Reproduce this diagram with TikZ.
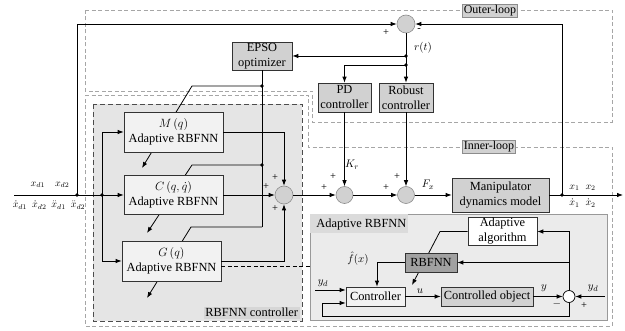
\documentclass[tikz,border=0pt]{standalone}
\usepackage{fontspec}
\setmainfont{Liberation Serif}
\usetikzlibrary{arrows.meta,calc}
\begin{document}
\begin{tikzpicture}[x=1pt,y=-1pt,
  line width=0.8pt,
  >={Latex[length=6pt,width=4.5pt]},
  blk/.style={draw=black!80, line width=0.7pt, align=center, inner sep=1pt,
    font=\fontsize{12.4}{15}\selectfont},
  sumn/.style={circle, draw=black!45, fill=black!18, minimum size=18pt, inner sep=0pt, line width=0.6pt},
  dot/.style={circle, fill=black, inner sep=0pt, minimum size=3.8pt},
  lbl/.style={font=\fontsize{11}{12}\selectfont, inner sep=0pt},
  lbls/.style={font=\fontsize{10}{11}\selectfont, inner sep=0pt},
  sgn/.style={font=\fontsize{10.5}{11}\selectfont, inner sep=0pt},
  loopbox/.style={draw=black!35, line width=0.6pt, dash pattern=on 4pt off 2.5pt},
  tag/.style={draw=black!45, fill=black!18, line width=0.5pt, inner sep=1.2pt,
    font=\fontsize{12}{13}\selectfont}
]
\useasboundingbox (0,0) rectangle (625,331);

% loop regions
\draw[loopbox] (85,10) -- (612,10) -- (612,122) -- (312,122) -- (312,91) -- (85,91) -- cycle;
\draw[loopbox] (85,95) -- (308,95) -- (308,147) -- (612,147) -- (612,326) -- (85,326) -- cycle;

% RBFNN controller region
\draw[draw=black!70, fill=black!10, line width=0.9pt, dash pattern=on 5pt off 3pt] (93,104) rectangle (302,321);
\node[fill=black!16, inner sep=1.5pt, anchor=south east, font=\fontsize{12.4}{13}\selectfont] (rcl) at (300,319) {RBFNN controller};

% Adaptive RBFNN region
\draw[draw=black!40, fill=black!8, line width=0.6pt] (310,214) rectangle (607,320);
\fill[black!14] (310.3,214.3) rectangle (408,233);
\node[anchor=west, inner sep=0pt, font=\fontsize{12.4}{13}\selectfont] (arl) at (316,224.5) {Adaptive RBFNN};

% EPSO and tuning lines (behind blocks)
\node[blk, fill=black!18, minimum width=60pt, minimum height=27pt] (EPSO) at (262,56) {EPSO\\optimizer};
\node[dot] (jm) at (262,86) {};
\node[dot] (jc) at (262,165) {};
\coordinate (eg) at (262,227);
\draw (EPSO.south) -- (eg);
\draw[->] (jm.center) -- (192,86) -- (142,168);
\draw[->] (jc.center) -- (192,165) -- (147,233);
\draw[->] (eg) -- (191,227) -- (147,298);

% RBFNN blocks
\node[blk, fill=black!5, minimum width=99pt, minimum height=40pt] (M) at (173.5,132) {$M\left(q\right)$\\Adaptive RBFNN};
\node[blk, fill=black!5, minimum width=99pt, minimum height=39pt] (C) at (173.5,195) {$C\left(q,\dot q\right)$\\Adaptive RBFNN};
\node[blk, fill=black!5, minimum width=99pt, minimum height=40pt] (G) at (171.5,261) {$G\left(q\right)$\\Adaptive RBFNN};

% summing junctions
\node[sumn] (S0) at (406,24) {};
\node[sumn] (S1) at (284,195) {};
\node[sumn, minimum size=17pt] (S2) at (344.5,195) {};
\node[sumn, minimum size=17pt] (S3) at (406,195) {};

% controllers and plant
\node[blk, fill=black!18, minimum width=53pt, minimum height=29pt] (PD) at (344.5,97.5) {PD\\controller};
\node[blk, fill=black!18, minimum width=54pt, minimum height=29pt] (RC) at (406,97.5) {Robust\\controller};
\node[blk, fill=black!18, minimum width=97pt, minimum height=34pt] (MD) at (500.5,195) {Manipulator\\dynamics model};

% main signal path
\coordinate (in) at (14,195);
\coordinate (out) at (623,195);
\node[dot] (ja) at (77,195) {};
\node[dot] (jb) at (102,195) {};
\node[dot] (jo) at (562,195) {};
\node[dot] (jr1) at (406,56) {};
\node[dot] (jr2) at (406,65) {};

\draw[->] (in) -- (C.west);
\draw[->] (ja.center) |- (S0.west);
\draw[->] (jb.center) |- (M.west);
\draw[->] (jb.center) |- (G.west);
\draw[->] (M.east) -| (S1.north);
\draw[->] (G.east) -| (S1.south);
\draw[->] (C.east) -- (S1.west);
\draw[->] (S1.east) -- (S2.west);
\draw[->] (S2.east) -- (S3.west);
\draw[->] (S3.east) -- (MD.west);
\draw[->] (MD.east) -- (out);
\draw[->] (jo.center) |- (S0.east);
\draw (S0.south) -- (jr1.center);
\draw[->] (jr1.center) -- (EPSO.east);
\draw[->] (jr1.center) -- (RC.north);
\draw[->] (jr2.center) -| (PD.north);
\draw[->] (PD.south) -- (S2.north);
\draw[->] (RC.south) -- (S3.north);

% dashed link G -> Adaptive RBFNN
\draw[line width=0.8pt, dash pattern=on 4pt off 2.5pt] ([yshift=-5pt]G.east) -- (310,266);

% Adaptive RBFNN internals
\node[blk, fill=white, minimum width=69pt, minimum height=27pt] (AA) at (502.5,231.5) {Adaptive\\algorithm};
\draw[->] (AA.west) -- (440,231.5) -- (412,285);
\node[blk, fill=black!37, minimum width=52pt, minimum height=19pt] (RB) at (431,262.5) {RBFNN};
\node[blk, fill=black!5, minimum width=59pt, minimum height=19pt] (CT) at (375.5,296.5) {Controller};
\node[blk, fill=black!18, minimum width=92pt, minimum height=19pt] (CO) at (487,296.5) {Controlled object};
\node[circle, draw=black, fill=white, line width=0.7pt, minimum size=12pt, inner sep=0pt] (S4) at (569,296.5) {};

\coordinate (ydl) at (315,290);
\coordinate (ydr) at (605,296.5);
\coordinate (fb) at (377,262.5);
\draw[->] (ydl) -- (ydl -| CT.west);
\draw[->] (S4.south) -- (569,316) -- (322,316) |- ([yshift=-6.5pt]CT.west);
\draw[->] (CT.east) -- (CO.west);
\draw[->] (CO.east) -- (S4.west);
\draw[->] (ydr) -- (S4.east);
\draw[->] (S4.north) |- (AA.east);
\draw[->] (569,262.5) -- (RB.east);
\draw[->] (RB.west) -- (fb) -- (fb |- CT.north);

% labels
\node[lbl] at (423,48) {$r(t)$};
\node[lbl] at (352,165) {$K_r$};
\node[lbl] at (428,185) {$F_x$};
\node[lbls] at (50,185) {$x_{d1}\hspace{10pt}x_{d2}$};
\node[lbls] at (49,205) {$\dot x_{d1}\hspace{5pt}\dot x_{d2}\hspace{5pt}\ddot x_{d1}\hspace{5pt}\ddot x_{d2}$};
\node[lbls] at (582.5,188) {$x_1\hspace{6pt}x_2$};
\node[lbls] at (582.5,203) {$\dot x_1\hspace{6pt}\dot x_2$};
\node[lbl] at (358,259) {$\hat f(x)$};
\node[lbl] at (323,283) {$y_d$};
\node[lbl] at (420,291) {$u$};
\node[lbl] at (544,288) {$y$};
\node[lbl] at (593,288) {$y_d$};

\node[sgn] at (386,33) {+};
\node[sgn] at (419,30) {-};
\node[sgn] at (333,177) {+};
\node[sgn] at (324,188) {+};
\node[sgn] at (397,177) {+};
\node[sgn] at (386,188) {+};
\node[sgn] at (275,178) {+};
\node[sgn] at (266,187) {+};
\node[sgn] at (275,209) {+};
\node[sgn] at (557,304) {$-$};
\node[sgn] at (584,306) {+};

% loop tags
\node[tag] (ol) at (490,11) {Outer-loop};
\node[tag] (il) at (489,147) {Inner-loop};
\end{tikzpicture}
\end{document}
